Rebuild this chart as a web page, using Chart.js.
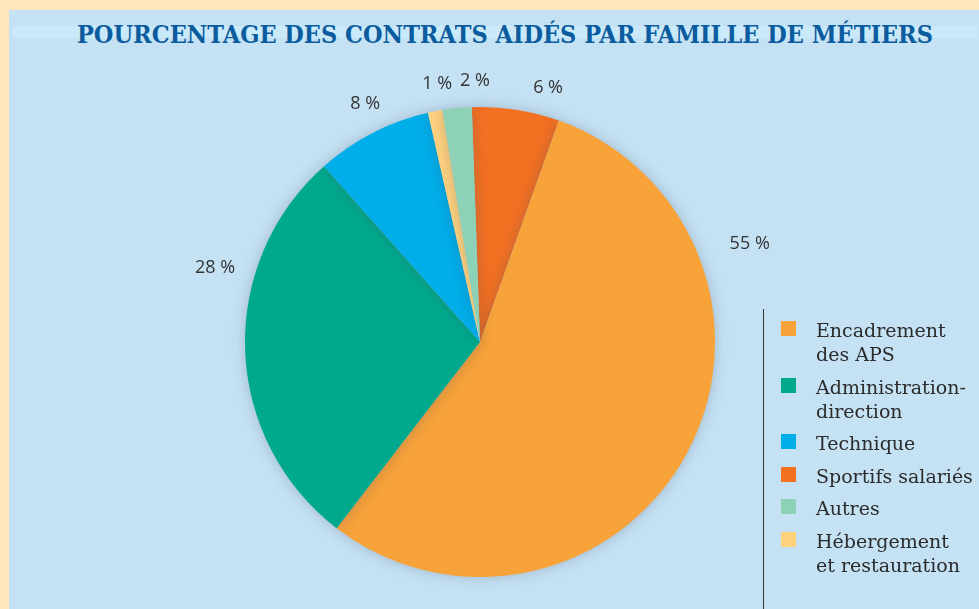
<!DOCTYPE html>
<html>
<head>
<meta charset="utf-8">
<script src="https://cdn.jsdelivr.net/npm/chart.js@4/dist/chart.umd.min.js"></script>
<style>
  html, body { margin: 0; padding: 0; }
  body { width: 979px; height: 609px; background: #FFE6BB; position: relative; overflow: hidden; }
  #panel { position: absolute; left: 9px; top: 10px; right: 0; bottom: 0; background: #C5E2F4; }
  #band { position: absolute; left: 13px; top: 26px; width: 964px; height: 12px; background: #CAEAFA; }
  #title { position: absolute; left: 0; top: 20px; width: 1010px; text-align: center;
           font-family: "DejaVu Serif"; font-stretch: condensed; font-weight: bold;
           font-size: 25px; color: #0B5C9E; }
  #wrap { position: absolute; left: 0; top: 0; width: 979px; height: 609px; }
  #rule { position: absolute; left: 763px; top: 309px; width: 1px; height: 300px; background: #333; }
  #legend { position: absolute; left: 781px; top: 318px; font-family: "DejaVu Serif"; font-size: 19px; color: #2b2b2b; }
  .item { position: relative; padding-left: 35px; line-height: 24px; margin-bottom: 8.5px; white-space: nowrap; }
  .box { position: absolute; left: 0; top: 3px; width: 15px; height: 15px; }
</style>
</head>
<body>
<div id="panel"></div>
<div id="band"></div>
<div id="title">POURCENTAGE DES CONTRATS AIDÉS PAR FAMILLE DE MÉTIERS</div>
<div id="wrap"><canvas id="pie" width="979" height="609"></canvas></div>
<div id="rule"></div>
<div id="legend"></div>
<script>
// slices in drawing order (clockwise from the top)
const categories = ["Sportifs salariés", "Encadrement des APS", "Administration-direction", "Technique", "Hébergement et restauration", "Autres"];
const values = [6, 55, 28, 8, 1, 2];
const colors = ["#F37022", "#F8A23A", "#00A98D", "#00AEEA", "#FFD27E", "#8DD1B7"];

// legend order and line breaks as printed
const legendOrder = ["Encadrement des APS", "Administration-direction", "Technique", "Sportifs salariés", "Autres", "Hébergement et restauration"];
const legendLines = {
    "Encadrement des APS": ["Encadrement", "des APS"],
    "Administration-direction": ["Administration-", "direction"],
    "Hébergement et restauration": ["Hébergement", "et restauration"]
};

// where each value label sits: angle from top (deg) and distance from centre
const labelSpots = [[15, 263], [70, 287], [-74.4, 275], [-25.8, 264], [-9.4, 262], [-1.1, 261]];

const pieShadow = {
    id: "pieShadow",
    beforeDatasetsDraw(chart) {
        const ctx = chart.ctx;
        ctx.save();
        ctx.shadowColor = "rgba(70,80,100,0.3)";
        ctx.shadowBlur = 14;
    },
    afterDatasetsDraw(chart) {
        chart.ctx.restore();
    }
};

const valueLabels = {
    id: "valueLabels",
    afterDraw(chart) {
        const ctx = chart.ctx;
        const arc = chart.getDatasetMeta(0).data[0];
        ctx.save();
        ctx.font = "18px 'Open Sans'";
        ctx.fillStyle = "#333";
        ctx.textAlign = "center";
        ctx.textBaseline = "middle";
        values.forEach(function (v, i) {
            const a = labelSpots[i][0] * Math.PI / 180;
            const d = labelSpots[i][1];
            ctx.fillText(v + " %", arc.x + d * Math.sin(a), arc.y - d * Math.cos(a));
        });
        ctx.restore();
    }
};

let pieChart = new Chart(document.getElementById("pie"), {
    type: "pie",
    data: {
        labels: categories,
        datasets: [{
            data: values,
            backgroundColor: colors,
            borderWidth: 0
        }]
    },
    options: {
        responsive: false,
        animation: false,
        rotation: -2,
        layout: { padding: { left: 245, right: 264, top: 107, bottom: 32 } },
        plugins: {
            legend: { display: false },
            tooltip: { enabled: false }
        }
    },
    plugins: [pieShadow, valueLabels]
});

const legend = document.getElementById("legend");
legendOrder.forEach(function (name) {
    const i = categories.indexOf(name);
    const item = document.createElement("div");
    item.className = "item";
    const box = document.createElement("span");
    box.className = "box";
    box.style.background = colors[i];
    item.appendChild(box);
    const lines = legendLines[name] || [name];
    item.innerHTML += lines.join("<br>");
    legend.appendChild(item);
});
</script>
</body>
</html>
